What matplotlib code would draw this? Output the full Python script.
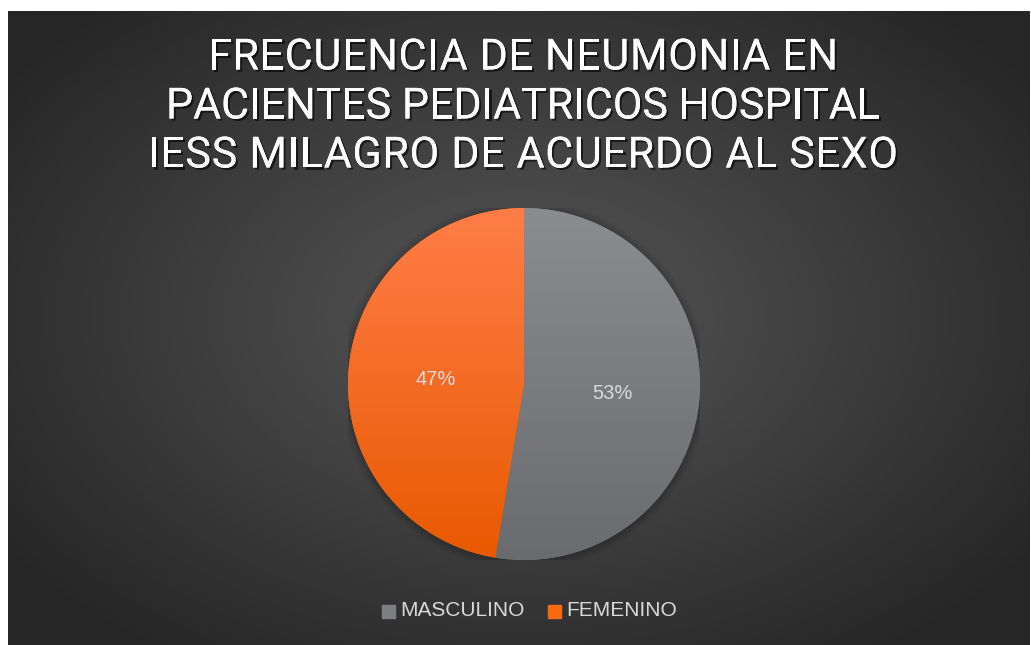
import numpy as np
import matplotlib
matplotlib.use("Agg")
import matplotlib.pyplot as plt
import matplotlib.patheffects as pe
from matplotlib.patches import Rectangle

title_lines = ["FRECUENCIA DE NEUMONIA EN",
               "PACIENTES PEDIATRICOS HOSPITAL",
               "IESS MILAGRO DE ACUERDO AL SEXO"]
categories = ["MASCULINO", "FEMENINO"]
values = [52.6, 47.4]

W, H = 1031, 645
fig = plt.figure(figsize=(W / 100, H / 100), dpi=100)
fig.patch.set_facecolor("white")
renderer = fig.canvas.get_renderer()

# background panel with radial gradient
bx0, by0, bx1, by1 = 8, 11, 1030, 645
bg = fig.add_axes([bx0 / W, 1 - by1 / H, (bx1 - bx0) / W, (by1 - by0) / H])
bg.set_axis_off()
yy, xx = np.mgrid[0:300, 0:480]
cx, cy = 240 * 1.0, 300 * 0.48
r = np.sqrt(((xx - cx) / 480) ** 2 + ((yy - cy) / 300) ** 2 * 0.9)
r = np.clip(r / 0.62, 0, 1)
inner = np.array([0x57, 0x57, 0x57]) / 255
outer = np.array([0x26, 0x26, 0x26]) / 255
img = inner[None, None, :] * (1 - r[..., None]) + outer[None, None, :] * r[..., None]
bg.imshow(img, extent=[0, 1, 0, 1], aspect="auto", origin="upper")
bg.set_xlim(0, 1)
bg.set_ylim(0, 1)

# title with letter spacing
shadow = [pe.withSimplePatchShadow(offset=(1.5, -1.5), shadow_rgbFace="black", alpha=0.6), pe.Normal()]
ys = [58, 107, 156]
targets = [630, 714, 750]
for line, y, tw in zip(title_lines, ys, targets):
    objs = []
    widths = []
    for ch in line:
        t = fig.text(0, 1 - y / H, ch if ch != " " else "\u00a0", ha="left", va="center",
                     color="white", fontsize=31, family="Roboto", path_effects=shadow)
        objs.append(t)
    # measure widths
    for ch, t in zip(line, objs):
        if ch == " ":
            widths.append(None)
        else:
            widths.append(t.get_window_extent(renderer).width)
    space_w = fig.text(0, 0, "a a", fontsize=31, family="Roboto").get_window_extent(renderer).width - \
        fig.text(0, 0, "aa", fontsize=31, family="Roboto").get_window_extent(renderer).width
    fig.texts[-1].remove()
    fig.texts[-1].remove()
    widths = [w if w is not None else space_w for w in widths]
    sp = (tw - sum(widths)) / (len(line) - 1)
    x = 523 - tw / 2
    for w, t in zip(widths, objs):
        t.set_x(x / W)
        x += w + sp

# pie
pcx, pcy, R = 524, 384, 176
ax = fig.add_axes([(pcx - R) / W, 1 - (pcy + R) / H, 2 * R / W, 2 * R / H])
ax.set_axis_off()
ax.set_xlim(-1, 1)
ax.set_ylim(-1, 1)
ax.set_aspect("equal")

for i, a in enumerate([0.06, 0.05, 0.04, 0.03]):
    c = plt.Circle((0.0, -0.005), 1.0 + 0.012 * (i + 1), color="black", alpha=a, lw=0)
    ax.add_patch(c)

colors = ["#7b7c80", "#f96a10"]
wedges, texts = ax.pie(values, colors=colors, startangle=90, counterclock=False,
                       radius=1.0, wedgeprops=dict(linewidth=0))
grads = [(np.array([0x8b, 0x8c, 0x90]), np.array([0x6a, 0x6b, 0x6f])),
         (np.array([0xff, 0x7d, 0x48]), np.array([0xe8, 0x59, 0x00]))]
tt = np.linspace(0, 1, 256)[:, None]
for w, (top, bot) in zip(wedges, grads):
    g = (top[None, :] * (1 - tt) + bot[None, :] * tt) / 255
    g = np.repeat(g[:, None, :], 4, axis=1)
    im = ax.imshow(g, extent=[-1, 1, -1, 1], origin="upper", aspect="auto", zorder=2)
    im.set_clip_path(w)

# percentage labels
total = sum(values)
pct_labels = [f"{round(v / total * 100):.0f}%" for v in values]
label_pos = [(0.5, -0.055), (-0.5, 0.025)]
for (x, y), lab in zip(label_pos, pct_labels):
    ax.text(x, y, lab, ha="center", va="center", color="#d9d9d9", fontsize=14.5,
            family="Liberation Sans", zorder=5)
ax.set_xlim(-1, 1)
ax.set_ylim(-1, 1)

# legend
leg_y = 611
legend_items = [(382, categories[0], "#7d7e82"), (548, categories[1], "#f96a10")]
for x, name, col in legend_items:
    fig.patches.append(Rectangle((x / W, 1 - (leg_y + 6.5) / H), 13 / W, 13 / H,
                                 transform=fig.transFigure, color=col, figure=fig))
    fig.text((x + 18) / W, 1 - leg_y / H, name, ha="left", va="center",
             color="#d9d9d9", fontsize=15, family="Liberation Sans")

fig.savefig("out.png", dpi=100, facecolor="white")
